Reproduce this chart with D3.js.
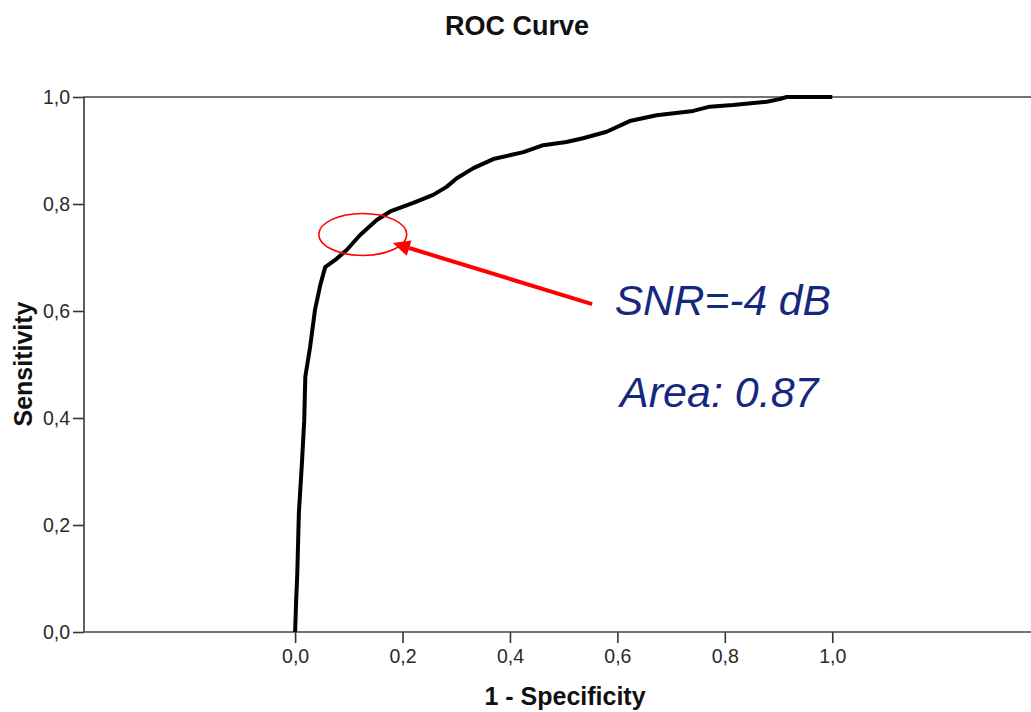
<!DOCTYPE html>
<html lang="en">
  <head>
    <meta charset="utf-8" />
    <title>ROC Curve</title>
    <script src="https://d3js.org/d3.v7.min.js"></script>
    <style>
      body {
        margin: 0;
        background-color: #ffffff;
        font-family: Arial, "Liberation Sans", sans-serif;
      }
    </style>
  </head>

  <body>
    <div id="chart"></div>

    <script>
      // ROC curve points
      const fpr = [
        0, 0.002, 0.004, 0.007, 0.013, 0.017, 0.019, 0.028, 0.037, 0.047,
        0.056, 0.074, 0.096, 0.121, 0.152, 0.177, 0.22, 0.257, 0.282, 0.301,
        0.332, 0.369, 0.425, 0.462, 0.505, 0.536, 0.58, 0.623, 0.673, 0.741,
        0.772, 0.815, 0.878, 0.902, 0.915, 1.0,
      ];
      const tpr = [
        0, 0.06, 0.107, 0.222, 0.321, 0.396, 0.477, 0.533, 0.602, 0.649,
        0.682, 0.695, 0.714, 0.742, 0.77, 0.786, 0.802, 0.817, 0.832, 0.848,
        0.867, 0.884, 0.897, 0.91, 0.916, 0.923, 0.935, 0.955, 0.966, 0.974,
        0.982, 0.985, 0.991, 0.996, 1.0, 1.0,
      ];
      const xTicks = [0, 0.2, 0.4, 0.6, 0.8, 1.0];
      const yTicks = [0, 0.2, 0.4, 0.6, 0.8, 1.0];

      const width = 1031,
        height = 712;
      const plotLeft = 84,
        plotTop = 97,
        plotBottom = 632;

      const svg = d3
        .select("#chart")
        .append("svg")
        .attr("width", width)
        .attr("height", height);

      const x = d3.scaleLinear().domain([-0.393, 1.37]).range([plotLeft, width]);
      const y = d3.scaleLinear().domain([0, 1]).range([plotBottom, plotTop]);

      const fmt = (d) => d3.format(".1f")(d).replace(".", ",");

      // x axis
      const gx = svg
        .append("g")
        .attr("transform", `translate(0,${plotBottom})`)
        .call(d3.axisBottom(x).tickValues(xTicks).tickSize(11).tickPadding(6).tickFormat(fmt));
      gx.select(".domain").remove();

      // y axis
      const gy = svg
        .append("g")
        .attr("transform", `translate(${plotLeft},0)`)
        .call(d3.axisLeft(y).tickValues(yTicks).tickSize(11).tickPadding(3).tickFormat(fmt));
      gy.select(".domain").remove();

      svg
        .selectAll(".tick line")
        .attr("stroke", "#333")
        .attr("stroke-width", 1.6);
      svg
        .selectAll(".tick text")
        .style("font-family", "Arial, 'Liberation Sans', sans-serif")
        .style("font-size", "19.5px")
        .attr("fill", "#2a2a2a");

      // frame
      svg
        .append("path")
        .attr("d", `M${width},${plotTop}H${plotLeft}V${plotBottom}H${width}`)
        .attr("fill", "none")
        .attr("stroke", "#444")
        .attr("stroke-width", 1.7);

      // curve
      const pts = fpr.map((d, i) => [d, tpr[i]]);
      svg
        .append("path")
        .datum(pts)
        .attr("fill", "none")
        .attr("stroke", "#000")
        .attr("stroke-width", 4)
        .attr("stroke-linejoin", "round")
        .attr("d", d3.line().x((d) => x(d[0])).y((d) => y(d[1])));

      // Title
      svg
        .append("text")
        .attr("x", 517)
        .attr("y", 35)
        .attr("text-anchor", "middle")
        .style("font-size", "27px")
        .style("font-weight", "bold")
        .attr("fill", "#111")
        .text("ROC Curve");

      // axis titles
      svg
        .append("text")
        .attr("x", 565)
        .attr("y", 705)
        .attr("text-anchor", "middle")
        .style("font-size", "25px")
        .style("font-weight", "bold")
        .attr("fill", "#111")
        .text("1 - Specificity");

      svg
        .append("text")
        .attr("transform", "translate(32,364) rotate(-90)")
        .attr("text-anchor", "middle")
        .style("font-size", "25px")
        .style("font-weight", "bold")
        .attr("fill", "#111")
        .text("Sensitivity");

      // annotation: ellipse + arrow
      svg
        .append("ellipse")
        .attr("cx", x(0.126))
        .attr("cy", y(0.743))
        .attr("rx", 44)
        .attr("ry", 21)
        .attr("fill", "none")
        .attr("stroke", "#ff0000")
        .attr("stroke-width", 1.6);

      const tail = [x(0.553), y(0.613)];
      const tip = [x(0.182), y(0.727)];
      const ang = Math.atan2(tip[1] - tail[1], tip[0] - tail[0]);
      const headLen = 17,
        headW = 8;
      const base = [tip[0] - headLen * Math.cos(ang), tip[1] - headLen * Math.sin(ang)];
      svg
        .append("line")
        .attr("x1", tail[0])
        .attr("y1", tail[1])
        .attr("x2", base[0])
        .attr("y2", base[1])
        .attr("stroke", "#ff0000")
        .attr("stroke-width", 4);
      svg
        .append("path")
        .attr(
          "d",
          `M${tip[0]},${tip[1]}` +
            `L${base[0] + headW * Math.sin(ang)},${base[1] - headW * Math.cos(ang)}` +
            `L${base[0] - headW * Math.sin(ang)},${base[1] + headW * Math.cos(ang)}Z`
        )
        .attr("fill", "#ff0000");

      svg
        .append("text")
        .attr("x", x(0.595))
        .attr("y", y(0.593))
        .style("font-size", "42.5px")
        .style("font-style", "italic")
        .attr("fill", "#16287e")
        .text("SNR=-4 dB");

      svg
        .append("text")
        .attr("x", x(0.605))
        .attr("y", y(0.421))
        .style("font-size", "43px")
        .style("font-style", "italic")
        .attr("fill", "#16287e")
        .text("Area: 0.87");
    </script>
  </body>
</html>
